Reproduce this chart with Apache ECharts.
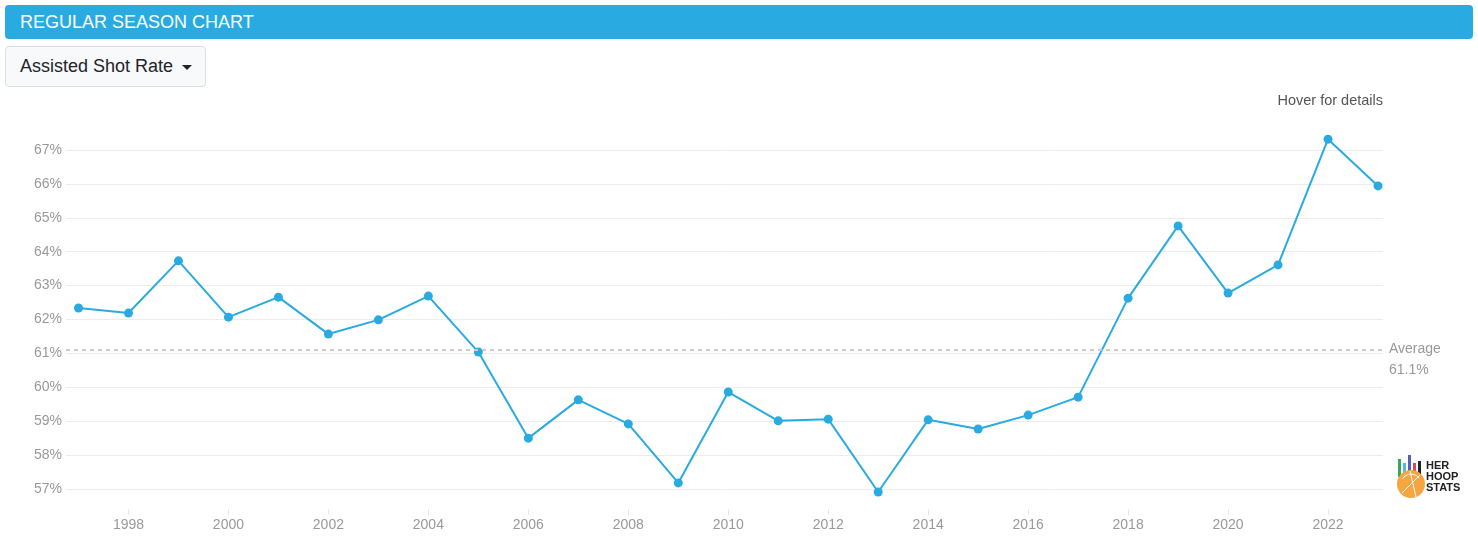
<!DOCTYPE html>
<html><head><meta charset="utf-8">
<script src="https://cdn.jsdelivr.net/npm/echarts@6/dist/echarts.min.js"></script>
<style>
html,body{margin:0;padding:0;background:#fff;font-family:"Liberation Sans",Arial,sans-serif;}
#wrap{position:relative;width:1478px;height:544px;overflow:hidden;}
#chart{position:absolute;left:0;top:0;width:1478px;height:544px;}
#hdr{position:absolute;left:5px;top:5px;width:1468px;height:34px;background:#29abe2;border-radius:4px;color:#fff;font-size:18px;line-height:34px;box-sizing:border-box;padding-left:15px;}
#dd{position:absolute;left:5px;top:46px;width:201px;height:41px;background:#f8f9fa;border:1px solid #dcdfe3;border-radius:4px;box-sizing:border-box;color:#212529;font-size:18px;line-height:39px;padding-left:14px;}
#dd .c{position:absolute;left:176px;top:18px;width:0;height:0;border-left:5px solid transparent;border-right:5px solid transparent;border-top:5px solid #212529;}
</style></head>
<body><div id="wrap">
<div id="chart"></div>
<div id="hdr">REGULAR SEASON CHART</div>
<div id="dd">Assisted Shot Rate<span class="c"></span></div>
</div>
<script>
const years = [1997,1998,1999,2000,2001,2002,2003,2004,2005,2006,2007,2008,2009,2010,2011,2012,2013,2014,2015,2016,2017,2018,2019,2020,2021,2022,2023];
const assistedRate = [62.34,62.19,63.73,62.07,62.66,61.57,61.99,62.69,61.04,58.50,59.63,58.92,57.18,59.86,59.01,59.06,56.91,59.04,58.77,59.18,59.71,62.63,64.76,62.78,63.61,67.32,65.94];
const average = 61.1;
const xTickYears = [1998,2000,2002,2004,2006,2008,2010,2012,2014,2016,2018,2020,2022];

const chart = echarts.init(document.getElementById('chart'));
const font = '"Liberation Sans", Arial, sans-serif';
chart.setOption({
  animation:false,
  grid:{left:66,right:95,top:150,bottom:55},
  xAxis:{type:'value',min:1996.75,max:2023.1,offset:20,
    axisLine:{show:false},
    axisTick:{show:true,length:6,lineStyle:{color:'#e6e6e6'},customValues:xTickYears},
    axisLabel:{color:'#999',fontSize:14,fontFamily:font,margin:9,customValues:xTickYears,formatter:v=>String(v)},
    splitLine:{show:false}},
  yAxis:{type:'value',min:57,max:67,interval:1,
    axisLine:{show:false},axisTick:{show:false},
    axisLabel:{color:'#999',fontSize:14,fontFamily:font,margin:4,formatter:v=>v+'%'},
    splitLine:{lineStyle:{color:'#ececec',width:1}}},
  series:[{type:'line',data:years.map((y,i)=>[y,assistedRate[i]]),clip:false,
    lineStyle:{color:'#29abe2',width:2},itemStyle:{color:'#29abe2'},
    symbol:'circle',symbolSize:9,showSymbol:true,
    markLine:{silent:true,symbol:'none',
      lineStyle:{color:'#cccccc',type:[4,4],width:2},
      label:{position:'end',formatter:'Average\n'+average+'%',color:'#999',fontSize:14,fontFamily:font,lineHeight:21,distance:6,offset:[0,10]},
      data:[{yAxis:average}]}}],
  graphic:[
    {type:'text',right:95,top:93,style:{text:'Hover for details',fill:'#555',font:'14.5px '+font,textAlign:'right'}},
    {type:'group',left:1397,top:455,children:[
      {type:'rect',shape:{x:0,y:4,width:3,height:18},style:{fill:'#3aa55f'}},
      {type:'rect',shape:{x:5,y:8,width:3,height:14},style:{fill:'#55b8e6'}},
      {type:'rect',shape:{x:10,y:0,width:3,height:22},style:{fill:'#5561b0'}},
      {type:'rect',shape:{x:15,y:8,width:3,height:14},style:{fill:'#d9465f'}},
      {type:'rect',shape:{x:20,y:6,width:3,height:16},style:{fill:'#222'}},
      {type:'circle',shape:{cx:13,cy:29,r:14},style:{fill:'#f6a540'}},
      {type:'arc',shape:{cx:13,cy:29,r:10,startAngle:-2.6,endAngle:-0.6},style:{stroke:'#fff',lineWidth:1,fill:null}},
      {type:'line',shape:{x1:4,y1:38,x2:22,y2:20},style:{stroke:'#fff',lineWidth:1}},
      {type:'line',shape:{x1:12,y1:16,x2:18,y2:42},style:{stroke:'#fff',lineWidth:1}},
      {type:'text',left:28,top:5,style:{text:'HER\nHOOP\nSTATS',fill:'#222',font:'bold 11px '+font,lineHeight:11}}
    ]}
  ]
});
</script></body></html>
